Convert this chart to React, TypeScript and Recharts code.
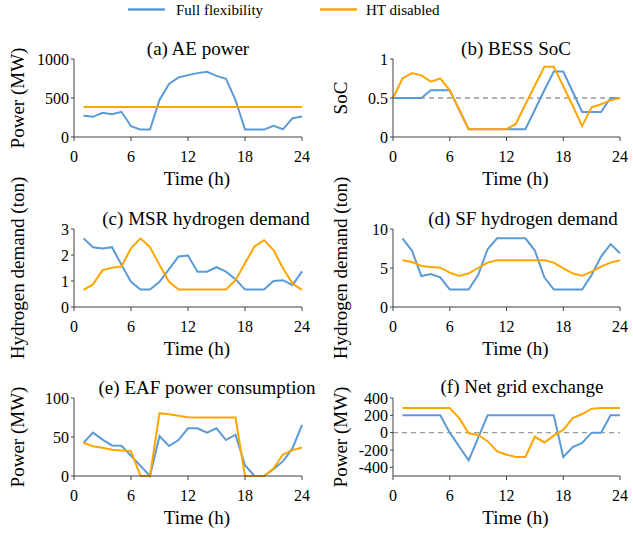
import React from 'react';
import { LineChart, Line, XAxis, YAxis, ReferenceLine } from 'recharts';

const FONT = '"Liberation Serif", "Times New Roman", serif';
const BLUE = '#5B9BD5';
const ORANGE = '#FFA500';
const AXIS = '#404040';

const seriesNames = ['Full flexibility', 'HT disabled'];
const xTicks = [0, 6, 12, 18, 24];

const hours = [1, 2, 3, 4, 5, 6, 7, 8, 9, 10, 11, 12, 13, 14, 15, 16, 17, 18, 19, 20, 21, 22, 23, 24];
const hours0 = [0, 1, 2, 3, 4, 5, 6, 7, 8, 9, 10, 11, 12, 13, 14, 15, 16, 17, 18, 19, 20, 21, 22, 23, 24];

// (a) AE power (MW)
const aeFull = [271, 259, 310, 293, 323, 138, 95, 95, 474, 681, 763, 793, 819, 836, 784, 746, 474, 95, 95, 95, 142, 99, 241, 263];
const aeHT = [385, 385, 385, 385, 385, 385, 385, 385, 385, 385, 385, 385, 385, 385, 385, 385, 385, 385, 385, 385, 385, 385, 385, 385];

// (b) BESS SoC (hours 0..24)
const socFull = [0.5, 0.5, 0.5, 0.5, 0.6, 0.6, 0.6, 0.35, 0.1, 0.1, 0.1, 0.1, 0.1, 0.1, 0.1, 0.35, 0.6, 0.84, 0.84, 0.58, 0.32, 0.32, 0.32, 0.5, 0.5];
const socHT = [0.5, 0.75, 0.82, 0.79, 0.71, 0.75, 0.6, 0.35, 0.1, 0.1, 0.1, 0.1, 0.1, 0.17, 0.42, 0.66, 0.9, 0.9, 0.65, 0.4, 0.14, 0.38, 0.42, 0.47, 0.5];

// (c) MSR hydrogen demand (ton)
const msrFull = [2.64, 2.3, 2.25, 2.3, 1.62, 0.97, 0.67, 0.67, 0.97, 1.46, 1.94, 1.98, 1.36, 1.36, 1.53, 1.36, 1.07, 0.67, 0.67, 0.67, 1.0, 1.03, 0.84, 1.37];
const msrHT = [0.66, 0.87, 1.42, 1.51, 1.56, 2.26, 2.64, 2.3, 1.62, 0.97, 0.67, 0.67, 0.67, 0.67, 0.67, 0.67, 1.03, 1.68, 2.33, 2.57, 2.19, 1.49, 0.9, 0.66];

// (d) SF hydrogen demand (ton)
const sfFull = [8.8, 7.24, 3.97, 4.22, 3.8, 2.24, 2.24, 2.24, 4.1, 7.4, 8.8, 8.8, 8.8, 8.8, 7.24, 3.8, 2.24, 2.24, 2.24, 2.24, 4.1, 6.47, 8.06, 6.9];
const sfHT = [5.99, 5.78, 5.26, 5.13, 5.04, 4.4, 3.97, 4.31, 5.0, 5.69, 6.0, 6.0, 6.0, 6.0, 6.0, 6.0, 5.69, 4.96, 4.31, 4.0, 4.53, 5.17, 5.69, 6.0];

// (e) EAF power consumption (MW)
const eafFull = [42.7, 55.6, 46.6, 39.2, 38.8, 25.9, 12.9, 0, 51.3, 38.4, 46.1, 61.2, 61.2, 55.6, 61.2, 46.1, 53, 13.8, 0, 0, 8.6, 19, 35.3, 65.5];
const eafHT = [42.7, 38, 36.2, 33.6, 32.8, 31.9, 0, 0, 80.6, 79.3, 77.2, 75.4, 75, 75, 75, 75, 75, 0, 0, 0, 9.5, 27.6, 33.2, 36.6];

// (f) Net grid exchange (MW)
const gridFull = [200, 200, 200, 200, 200, 0, -160, -320, -60, 200, 200, 200, 200, 200, 200, 200, 200, -280, -165, -118, 0, 0, 200, 200];
const gridHT = [285, 285, 285, 285, 285, 285, 168, -8, -27, -98, -215, -254, -281, -281, -47, -113, -35, 31, 168, 215, 277, 285, 285, 285];

type PanelProps = {
  left: number;
  plotTop: number;
  yWidth: number;
  width: number;
  xs: number[];
  full: number[];
  ht: number[];
  domain: [number, number];
  ticks: number[];
  yLabel: string;
  labelOffset: number;
  refY?: number;
};

const MT = 70;
const PH = 78;
const XH = 48;
const MB = 6;

function Panel(p: PanelProps) {
  const data = p.xs.map((h, i) => ({ h, full: p.full[i], ht: p.ht[i] }));
  return (
    <div style={{ position: 'absolute', left: p.left, top: p.plotTop - MT }}>
      <LineChart
        width={p.width}
        height={MT + PH + XH + MB}
        data={data}
        margin={{ top: MT, right: 8, bottom: MB, left: 0 }}
      >
        <XAxis
          type="number"
          dataKey="h"
          domain={[0, 24]}
          ticks={xTicks}
          interval={0}
          tickSize={4}
          tickMargin={10}
          stroke={AXIS}
          tick={{ fill: '#000', fontSize: 16, fontFamily: FONT }}
          height={XH}
          label={{
            value: 'Time (h)',
            position: 'insideBottom',
            offset: 0,
            dx: 9,
            style: { fontSize: 19, fontFamily: FONT, fill: '#000' },
          }}
        />
        <YAxis
          type="number"
          domain={p.domain}
          ticks={p.ticks}
          interval={0}
          width={p.yWidth}
          tickSize={3}
          tickMargin={2}
          stroke={AXIS}
          tick={{ fill: '#000', fontSize: 16, fontFamily: FONT }}
          label={{
            value: p.yLabel,
            angle: -90,
            position: 'insideLeft',
            offset: p.labelOffset,
            style: { textAnchor: 'middle', fontSize: 19, fontFamily: FONT, fill: '#000' },
          }}
        />
        {p.refY !== undefined && (
          <ReferenceLine y={p.refY} stroke="#9a9a9a" strokeWidth={1.3} strokeDasharray="5 4" />
        )}
        <Line type="linear" dataKey="full" name={seriesNames[0]} stroke={BLUE} strokeWidth={2} dot={false} isAnimationActive={false} />
        <Line type="linear" dataKey="ht" name={seriesNames[1]} stroke={ORANGE} strokeWidth={2} dot={false} isAnimationActive={false} />
      </LineChart>
    </div>
  );
}

const titles = [
  { text: '(a) AE power', x: 198, y: 55 },
  { text: '(b) BESS SoC', x: 516, y: 55 },
  { text: '(c) MSR hydrogen demand', x: 206, y: 225 },
  { text: '(d) SF hydrogen demand', x: 523, y: 225 },
  { text: '(e) EAF power consumption', x: 207, y: 394 },
  { text: '(f) Net grid exchange', x: 522, y: 393 },
];

export default function App() {
  const L = { left: 0, yWidth: 74, width: 310, labelOffset: 17 };
  const R = { left: 320, yWidth: 73, width: 308, labelOffset: 20 };
  return (
    <div style={{ position: 'absolute', left: 0, top: 0, width: 633, height: 533, background: '#fff', overflow: 'hidden' }}>
      <Panel {...L} plotTop={59} xs={hours} full={aeFull} ht={aeHT} domain={[0, 1000]} ticks={[0, 500, 1000]} yLabel="Power (MW)" />
      <Panel {...R} plotTop={59} xs={hours0} full={socFull} ht={socHT} domain={[0, 1]} ticks={[0, 0.5, 1]} yLabel="SoC" refY={0.5} />
      <Panel {...L} plotTop={229} xs={hours} full={msrFull} ht={msrHT} domain={[0, 3]} ticks={[0, 1, 2, 3]} yLabel="Hydrogen demand (ton)" />
      <Panel {...R} plotTop={229} xs={hours} full={sfFull} ht={sfHT} domain={[0, 10]} ticks={[0, 5, 10]} yLabel="Hydrogen demand (ton)" />
      <Panel {...L} plotTop={398} xs={hours} full={eafFull} ht={eafHT} domain={[0, 100]} ticks={[0, 50, 100]} yLabel="Power (MW)" />
      <Panel {...R} plotTop={398} xs={hours} full={gridFull} ht={gridHT} domain={[-500, 400]} ticks={[-400, -200, 0, 200, 400]} yLabel="Power (MW)" refY={0} />
      <svg width={633} height={533} style={{ position: 'absolute', left: 0, top: 0, pointerEvents: 'none' }}>
        <line x1={128} y1={9.5} x2={165} y2={9.5} stroke={BLUE} strokeWidth={2.5} />
        <text x={176} y={15} style={{ fontFamily: FONT, fontSize: 15 }} fill="#000">{seriesNames[0]}</text>
        <line x1={320} y1={9.5} x2={357} y2={9.5} stroke={ORANGE} strokeWidth={2.5} />
        <text x={366} y={15} style={{ fontFamily: FONT, fontSize: 15 }} fill="#000">{seriesNames[1]}</text>
        {titles.map((t) => (
          <text key={t.text} x={t.x} y={t.y} textAnchor="middle" style={{ fontFamily: FONT, fontSize: 19 }} fill="#000">
            {t.text}
          </text>
        ))}
      </svg>
    </div>
  );
}
